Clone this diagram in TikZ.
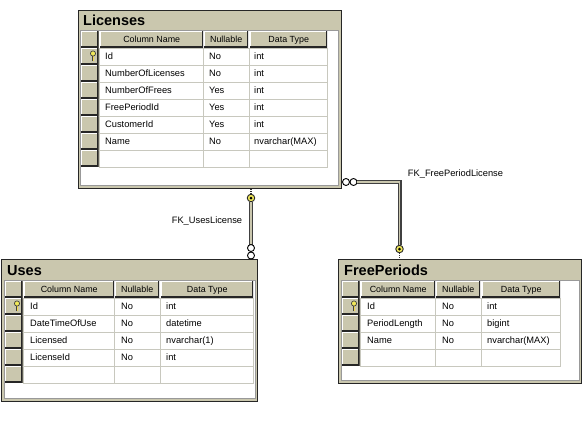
\documentclass[tikz,border=0pt]{standalone}
\usepackage{fontspec}
\setmainfont{Liberation Sans}
\definecolor{paneltan}{RGB}{202,199,174}
\definecolor{gridgray}{RGB}{200,200,190}
\definecolor{keyyellow}{RGB}{240,232,90}
\tikzset{
    tableframe/.style={draw=black!85, line width=1.4pt, fill=paneltan, anchor=north west, inner sep=0pt},
    tablebody/.style={draw=gray!80, fill=white, anchor=north west, inner sep=0pt},
    tabletitle/.style={anchor=west, inner sep=0pt, font=\fontsize{14.5}{16}\selectfont\bfseries},
    headbtn/.style={fill=paneltan, anchor=north west, inner sep=0pt,
        minimum height=16.5pt, text height=7.5pt, text depth=1.5pt, font=\fontsize{8.9}{10}\selectfont,
        path picture={
            \draw[white, line width=1.4pt] (path picture bounding box.south west)
                -- (path picture bounding box.north west) -- (path picture bounding box.north east);
            \draw[black!85, line width=3pt] (path picture bounding box.south west)
                -- (path picture bounding box.south east) -- (path picture bounding box.north east);
        }},
    celltext/.style={anchor=west, inner sep=0pt, text height=7.5pt, text depth=1.5pt, font=\fontsize{9.3}{10}\selectfont},
    gridline/.style={draw=gridgray, line width=0.8pt},
    fkline/.style={draw=black!75, line width=1.1pt, double=paneltan, double distance=1.8pt},
    keydot/.style={circle, draw=black!85, fill=keyyellow, line width=0.9pt, minimum size=7.5pt, inner sep=0pt},
    keyshaft/.style={draw=black!80, line width=1.8pt, dash pattern=on 1.2pt off 0.8pt},
    crowring/.style={circle, draw=black, fill=white, line width=0.9pt, minimum size=7pt, inner sep=0pt},
    fklabel/.style={inner sep=0pt, font=\fontsize{9.3}{10}\selectfont},
    keyicon/.pic={
        \draw[black!75, line width=2.2pt] (0,-3) -- (0,5);
        \draw[keyyellow!85!orange, line width=1pt] (0,-3) -- (0,4.5);
        \filldraw[draw=black!75, fill=keyyellow, line width=0.7pt] (0,-2.5) circle (2.6pt);
    }
}
\begin{document}
\begin{tikzpicture}[x=1pt, y=-1pt]
    \useasboundingbox (0,0) rectangle (583,421);

    % Licenses
    \node[tableframe, minimum width=263pt, minimum height=178pt] (licenses) at (77.5,9.5) {};
    \node[tablebody, minimum width=258pt, minimum height=155pt] (licbody) at (79.5,30) {};
    \node[tabletitle] (lictitle) at (83,20.5) {Licenses};
    \node[headbtn, minimum width=17.5pt] (lichead0) at (81,31) {};
    \node[headbtn, minimum width=103pt] (lichead1) at (100,31) {Column Name};
    \node[headbtn, minimum width=44pt] (lichead2) at (204,31) {Nullable};
    \node[headbtn, minimum width=77pt] (lichead3) at (250,31) {Data Type};
    \foreach \i/\colname/\colnull/\coltype in {0/Id/No/int, 1/NumberOfLicenses/No/int, 2/NumberOfFrees/Yes/int,
        3/FreePeriodId/Yes/int, 4/CustomerId/Yes/int, 5/Name/No/nvarchar(MAX), 6/{}/{}/{}} {
        \pgfmathsetmacro{\rowy}{48+17*\i}
        \node[headbtn, minimum width=17.5pt] (licbtn\i) at (81,\rowy) {};
        \draw[gridline] (99,\rowy) rectangle (203,\rowy+17);
        \draw[gridline] (203,\rowy) rectangle (249,\rowy+17);
        \draw[gridline] (249,\rowy) rectangle (327,\rowy+17);
        \node[celltext] (licname\i) at (105,\rowy+8.5) {\colname};
        \node[celltext] (licnull\i) at (209,\rowy+8.5) {\colnull};
        \node[celltext] (lictype\i) at (254,\rowy+8.5) {\coltype};
    }
    \pic at (93,56) {keyicon};

    % Uses
    \node[tableframe, minimum width=256pt, minimum height=142pt] (uses) at (1,259) {};
    \node[tablebody, minimum width=251pt, minimum height=118pt] (usebody) at (3.5,280) {};
    \node[tabletitle] (usetitle) at (7,270.5) {Uses};
    \node[headbtn, minimum width=17.5pt] (usehead0) at (5,281) {};
    \node[headbtn, minimum width=90pt] (usehead1) at (24,281) {Column Name};
    \node[headbtn, minimum width=44pt] (usehead2) at (115,281) {Nullable};
    \node[headbtn, minimum width=92pt] (usehead3) at (161,281) {Data Type};
    \foreach \i/\colname/\colnull/\coltype in {0/Id/No/int, 1/DateTimeOfUse/No/datetime, 2/Licensed/No/nvarchar(1),
        3/LicenseId/No/int, 4/{}/{}/{}} {
        \pgfmathsetmacro{\rowy}{298+17*\i}
        \node[headbtn, minimum width=17.5pt] (usebtn\i) at (5,\rowy) {};
        \draw[gridline] (23,\rowy) rectangle (114,\rowy+17);
        \draw[gridline] (114,\rowy) rectangle (160,\rowy+17);
        \draw[gridline] (160,\rowy) rectangle (253,\rowy+17);
        \node[celltext] (usename\i) at (30,\rowy+8.5) {\colname};
        \node[celltext] (usenull\i) at (121,\rowy+8.5) {\colnull};
        \node[celltext] (usetype\i) at (166,\rowy+8.5) {\coltype};
    }
    \pic at (17,306) {keyicon};

    % FreePeriods
    \node[tableframe, minimum width=243pt, minimum height=124pt] (freeperiods) at (338,259) {};
    \node[tablebody, minimum width=238pt, minimum height=100pt] (freebody) at (340.5,280) {};
    \node[tabletitle] (freetitle) at (344,270.5) {FreePeriods};
    \node[headbtn, minimum width=17.5pt] (freehead0) at (342,281) {};
    \node[headbtn, minimum width=74pt] (freehead1) at (361,281) {Column Name};
    \node[headbtn, minimum width=44pt] (freehead2) at (436,281) {Nullable};
    \node[headbtn, minimum width=78pt] (freehead3) at (482,281) {Data Type};
    \foreach \i/\colname/\colnull/\coltype in {0/Id/No/int, 1/PeriodLength/No/bigint, 2/Name/No/nvarchar(MAX), 3/{}/{}/{}} {
        \pgfmathsetmacro{\rowy}{298+17*\i}
        \node[headbtn, minimum width=17.5pt] (freebtn\i) at (342,\rowy) {};
        \draw[gridline] (360,\rowy) rectangle (435,\rowy+17);
        \draw[gridline] (435,\rowy) rectangle (481,\rowy+17);
        \draw[gridline] (481,\rowy) rectangle (560,\rowy+17);
        \node[celltext] (freename\i) at (367,\rowy+8.5) {\colname};
        \node[celltext] (freenull\i) at (442,\rowy+8.5) {\colnull};
        \node[celltext] (freetype\i) at (487,\rowy+8.5) {\coltype};
    }
    \pic at (354,306) {keyicon};

    % FK_UsesLicense
    \coordinate (usesend) at (251,247);
    \node[keydot] (usekey) at (251,198) {};
    \draw[fkline] (usekey) -- (usesend);
    \fill[black] (usekey) circle (1.5pt);
    \draw[keyshaft] (usekey) -- (licenses.south -| usekey);
    \node[crowring] (usering1) at (251,248) {};
    \node[crowring] (usering2) at (251,255.5) {};
    \node[fklabel] (usefk) at (207,221) {FK\_UsesLicense};

    % FK_FreePeriodLicense
    \node[keydot] (freekey) at (399.5,249) {};
    \node[crowring] (freering1) at (346,182) {};
    \node[crowring] (freering2) at (353.5,182) {};
    \draw[fkline] (freering2) -| (freekey);
    \fill[black] (freekey) circle (1.5pt);
    \draw[keyshaft] (freekey) -- (freeperiods.north -| freekey);
    \node[fklabel] (freefk) at (455.5,174) {FK\_FreePeriodLicense};
\end{tikzpicture}
\end{document}
